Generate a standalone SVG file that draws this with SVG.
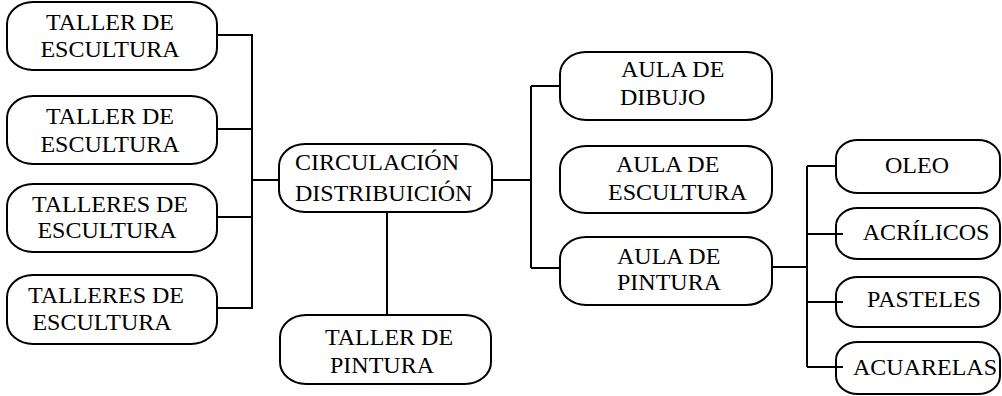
<svg xmlns="http://www.w3.org/2000/svg" width="1002" height="396" viewBox="0 0 1002 396">
<style>
.b{fill:#fff;stroke:#000;stroke-width:2}
.c{fill:none;stroke:#000;stroke-width:2}
.t{font-family:"Liberation Serif","Times New Roman",serif;font-size:24px;fill:#000}
</style>
<rect width="1002" height="396" fill="#fff"/>
<g id="connectors" class="c">
<path d="M217 35H252V308H217M217 129H252M217 217H252M252 180H279"/>
<path d="M492 180H531M531 86V268M531 86H560M531 268H560"/>
<path d="M387 212V315"/>
<path d="M772 267H807M807 166V367M807 166H836M807 234H843M807 302H843M807 367H843"/>
</g>
<g id="nodes" class="t">
<g id="n1"><rect class="b" x="7" y="2" width="210" height="68" rx="26" ry="22"/><text x="110" y="30" text-anchor="middle">TALLER DE</text><text x="110" y="57" text-anchor="middle">ESCULTURA</text></g>
<g id="n2"><rect class="b" x="7" y="96" width="210" height="68" rx="26" ry="22"/><text x="110" y="124" text-anchor="middle">TALLER DE</text><text x="110" y="152" text-anchor="middle">ESCULTURA</text></g>
<g id="n3"><rect class="b" x="7" y="184" width="210" height="68" rx="26" ry="22"/><text x="110" y="212" text-anchor="middle">TALLERES DE</text><text x="107" y="238" text-anchor="middle">ESCULTURA</text></g>
<g id="n4"><rect class="b" x="7" y="275" width="210" height="69" rx="26" ry="22"/><text x="106" y="303" text-anchor="middle">TALLERES DE</text><text x="102" y="330" text-anchor="middle">ESCULTURA</text></g>
<g id="n5"><rect class="b" x="279" y="144" width="213" height="68" rx="26" ry="22"/><text x="295" y="170">CIRCULACIÓN</text><text x="295" y="201">DISTRIBUICIÓN</text></g>
<g id="n6"><rect class="b" x="280" y="315" width="211" height="69" rx="26" ry="22"/><text x="325" y="345">TALLER DE</text><text x="330" y="373">PINTURA</text></g>
<g id="n7"><rect class="b" x="560" y="52" width="212" height="68" rx="26" ry="22"/><text x="621" y="77">AULA DE</text><text x="620" y="105">DIBUJO</text></g>
<g id="n8"><rect class="b" x="560" y="146" width="212" height="67" rx="26" ry="22"/><text x="616" y="172">AULA DE</text><text x="608" y="200">ESCULTURA</text></g>
<g id="n9"><rect class="b" x="560" y="237" width="212" height="68" rx="26" ry="22"/><text x="617" y="264">AULA DE</text><text x="617" y="290">PINTURA</text></g>
<g id="n10"><rect class="b" x="836" y="140" width="164" height="53" rx="22" ry="18"/><text x="917" y="173" text-anchor="middle">OLEO</text></g>
<g id="n11"><rect class="b" x="836" y="208" width="164" height="51" rx="22" ry="18"/><text x="926" y="240" text-anchor="middle">ACRÍLICOS</text></g>
<g id="n12"><rect class="b" x="836" y="277" width="164" height="50" rx="22" ry="18"/><text x="924" y="307" text-anchor="middle">PASTELES</text></g>
<g id="n13"><rect class="b" x="836" y="342" width="164" height="52" rx="22" ry="18"/><text x="925" y="375" text-anchor="middle">ACUARELAS</text></g>
</g>
<path class="c" d="M836 234H843M836 302H843M836 367H843"/>
</svg>
